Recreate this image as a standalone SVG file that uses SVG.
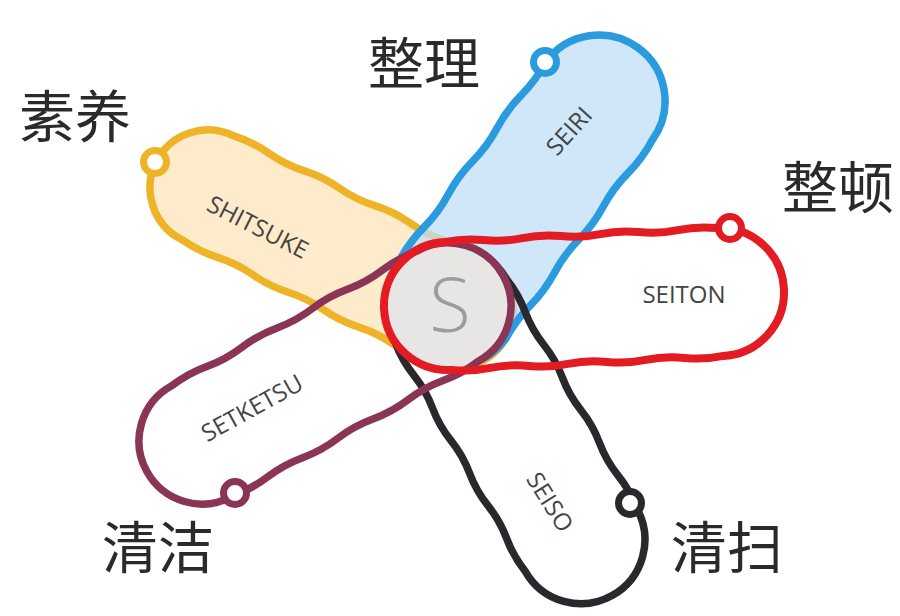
<svg xmlns="http://www.w3.org/2000/svg" width="900" height="616" viewBox="0 0 900 616">
  <style>
    .loop { stroke-width: 7.5; stroke-linejoin: round; }
    .ring { fill: #ffffff; stroke-width: 7; }
    .en { font-family: "Open Sans", "Liberation Sans", sans-serif; font-size: 24px; fill: #444444; text-anchor: middle; }
    .zh { font-family: "Noto Sans CJK SC", sans-serif; font-size: 56px; fill: #2a2a2a; text-anchor: middle; }
    .y { stroke: #eeb326; }
    .b { stroke: #2b9be0; }
    .r { stroke: #e31b23; }
    .p { stroke: #8b3556; }
    .k { stroke: #2b282d; }
  </style>
  <rect x="0" y="0" width="900" height="616" fill="#ffffff"/>

  <g id="connectors"></g>

  <g id="shitsuke">
    <path class="loop y" fill="#fdebcb" transform="translate(455,310) rotate(206.3)" d="M0,-58 q19.68,-3 39.36,0 t39.36,0 t39.36,0 t39.36,0 t39.36,0 t39.36,0 t39.36,0 A58,58 0 0 1 275.5,58 q-19.68,3 -39.36,0 t-39.36,0 t-39.36,0 t-39.36,0 t-39.36,0 t-39.36,0 t-39.36,0 A58,58 0 0 1 0,-58 Z"/>
    <circle class="ring y" cx="155" cy="162" r="11.5"/>
  </g>

  <g id="seiri">
    <path class="loop b" fill="#bfdff7" fill-opacity="0.75" transform="translate(452.7,299.5) rotate(-53.6)" d="M0,-66 q20.55,-3 41.1,0 t41.1,0 t41.1,0 t41.1,0 t41.1,0 t41.1,0 A66,66 0 0 1 246.6,66 q-20.55,3 -41.1,0 t-41.1,0 t-41.1,0 t-41.1,0 t-41.1,0 t-41.1,0 A66,66 0 0 1 0,-66 Z"/>
    <circle class="ring b" cx="545" cy="62" r="11.5"/>
  </g>

  <g id="seiso">
    <path class="loop k" fill="none" transform="translate(451,311) rotate(60.4)" d="M0,-64 q18.79,-3 37.57,0 t37.57,0 t37.57,0 t37.57,0 t37.57,0 t37.57,0 t37.57,0 A64,64 0 0 1 263,64 q-18.79,3 -37.57,0 t-37.57,0 t-37.57,0 t-37.57,0 t-37.57,0 t-37.57,0 t-37.57,0 A64,64 0 0 1 0,-64 Z"/>
    <circle class="ring k" cx="630" cy="503" r="11.5"/>
  </g>

  <g id="center">
    <circle cx="448" cy="306" r="64" fill="#e8e6e4"/>
  </g>

  <g id="setketsu">
    <path class="loop p" fill="none" transform="translate(448,306) rotate(151.24)" d="M0,-63 q20.04,-3 40.09,0 t40.09,0 t40.09,0 t40.09,0 t40.09,0 t40.09,0 t40.09,0 A63,63 0 0 1 280.6,63 q-20.04,3 -40.09,0 t-40.09,0 t-40.09,0 t-40.09,0 t-40.09,0 t-40.09,0 t-40.09,0 A63,63 0 0 1 0,-63 Z"/>
    <circle class="ring p" cx="235" cy="493" r="11.5"/>
  </g>

  <g id="seiton">
    <path class="loop r" style="stroke-width:8" fill="none" transform="translate(448,306) rotate(-2.95)" d="M0,-64 q19.46,-3 38.91,0 t38.91,0 t38.91,0 t38.91,0 t38.91,0 t38.91,0 t38.91,0 A64,64 0 0 1 272.4,64 q-19.46,3 -38.91,0 t-38.91,0 t-38.91,0 t-38.91,0 t-38.91,0 t-38.91,0 t-38.91,0 A64,64 0 0 1 0,-64 Z"/>
    <circle class="ring r" cx="730" cy="228" r="11.5"/>
  </g>

  <g id="labels">
    <text x="450" y="332" font-family="Open Sans, Liberation Sans, sans-serif" font-size="76" font-weight="300" fill="#9c9c9c" text-anchor="middle">S</text>
    <text class="en" transform="translate(258,227) rotate(27)" x="0" y="8.5">SHITSUKE</text>
    <text class="en" transform="translate(569,131) rotate(-48)" x="0" y="8.5">SEIRI</text>
    <text class="en" transform="translate(684,294)" x="0" y="8.5">SEITON</text>
    <text class="en" transform="translate(252,408) rotate(-29)" x="0" y="8.5">SETKETSU</text>
    <text class="en" transform="translate(550,502) rotate(58)" x="0" y="8.5">SEISO</text>

    <text class="zh" x="424" y="84">整理</text>
    <text class="zh" x="75" y="137">素养</text>
    <text class="zh" x="838" y="208">整顿</text>
    <text class="zh" x="158" y="568">清洁</text>
    <text class="zh" x="727" y="568">清扫</text>
  </g>
</svg>
